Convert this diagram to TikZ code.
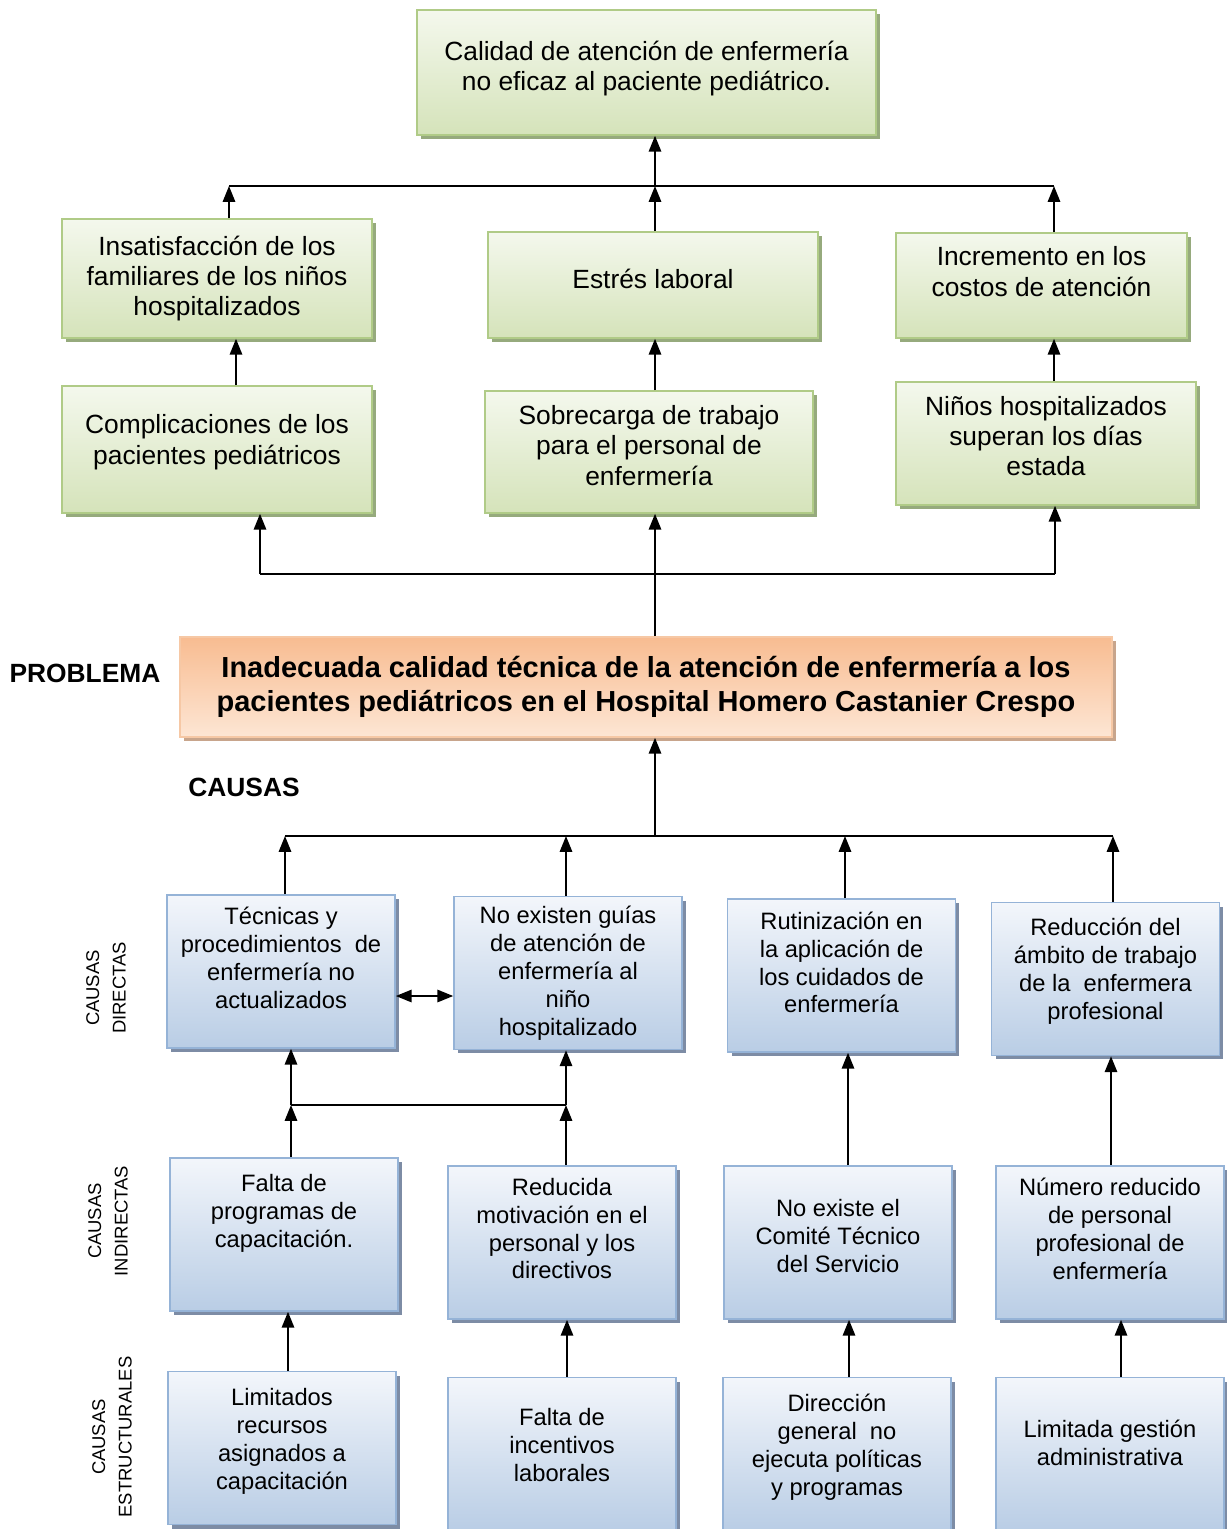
\documentclass[tikz,border=0pt]{standalone}
\usepackage{fontspec}
\setmainfont{Liberation Sans}
\usepackage{xcolor}
\usepackage{tikz}
\usetikzlibrary{arrows.meta,shadows}
\definecolor{efftop}{RGB}{244, 248, 237}
\definecolor{effbot}{RGB}{213, 227, 186}
\definecolor{effborder}{RGB}{176, 203, 135}
\definecolor{effshadow}{RGB}{150, 170, 125}
\definecolor{cautop}{RGB}{243, 246, 251}
\definecolor{caubot}{RGB}{185, 205, 229}
\definecolor{cauborder}{RGB}{149, 179, 215}
\definecolor{caushadow}{RGB}{125, 140, 165}
\definecolor{probtop}{RGB}{248, 188, 145}
\definecolor{probbot}{RGB}{253, 230, 212}
\definecolor{probborder}{RGB}{246, 200, 165}
\definecolor{probshadow}{RGB}{200, 165, 140}

\tikzset{
  effbox/.style={draw=effborder, line width=0.9pt, top color=efftop, bottom color=effbot,
    drop shadow={shadow xshift=0.08cm, shadow yshift=-0.08cm, fill=effshadow, opacity=1},
    align=center, font=\fontsize{15}{17.3}\selectfont, inner sep=3pt},
  causebox/.style={draw=cauborder, line width=0.9pt, top color=cautop, bottom color=caubot,
    drop shadow={shadow xshift=0.08cm, shadow yshift=-0.08cm, fill=caushadow, opacity=1},
    align=center, font=\fontsize{13.5}{15.9}\selectfont, inner sep=3pt,
    minimum width=4.56cm, minimum height=3.06cm},
  probbox/.style={draw=probborder, line width=0.9pt, top color=probtop, bottom color=probbot,
    drop shadow={shadow xshift=0.08cm, shadow yshift=-0.08cm, fill=probshadow, opacity=1},
    align=center, font=\fontsize{16.5}{19.3}\selectfont\bfseries, inner sep=3pt},
  sidelabel/.style={rotate=90, align=center, font=\fontsize{10.5}{15}\selectfont},
  arr/.style={-{Triangle[length=9pt,width=7pt]}, line width=1.1pt},
  dblarr/.style={{Triangle[length=9pt,width=7pt]}-{Triangle[length=9pt,width=7pt]}, line width=1.1pt},
  busline/.style={line width=1.1pt},
}

\begin{document}
\begin{tikzpicture}[x=0.02cm, y=-0.02cm]
  \useasboundingbox (0,0) rectangle (1227,1529);

  % effects
  \node[effbox, minimum width=9.18cm, minimum height=2.5cm, text depth=7.5pt] (top) at (646.5,72.5)
    {Calidad de atención de enfermería\\no eficaz al paciente pediátrico.};
  \node[effbox, minimum width=6.2cm, minimum height=2.38cm] (ins) at (217,278.5)
    {Insatisfacción de los\\familiares de los niños\\hospitalizados};
  \node[effbox, minimum width=6.6cm, minimum height=2.12cm, text depth=7pt] (est) at (653,285)
    {Estrés laboral};
  \node[effbox, minimum width=5.82cm, minimum height=2.1cm, text depth=16pt] (inc) at (1041.5,285.5)
    {Incremento en los\\costos de atención};
  \node[effbox, minimum width=6.2cm, minimum height=2.54cm, text depth=11.4pt] (comp) at (217,449.5)
    {Complicaciones de los\\pacientes pediátricos};
  \node[effbox, minimum width=6.56cm, minimum height=2.44cm, text depth=7.5pt] (sob) at (649,452)
    {Sobrecarga de trabajo\\para el personal de\\enfermería};
  \node[effbox, minimum width=6.0cm, minimum height=2.46cm, text depth=8.6pt] (nin) at (1046,443.5)
    {Niños hospitalizados\\superan los días\\estada};

  % problem
  \node[font=\fontsize{15}{18}\selectfont\bfseries] (lprob) at (85,673) {PROBLEMA};
  \node[probbox, minimum width=18.64cm, minimum height=2.0cm] (prob) at (646,687)
    {Inadecuada calidad técnica de la atención de enfermería a los\\pacientes pediátricos en el Hospital Homero Castanier Crespo};
  \node[font=\fontsize{15}{18}\selectfont\bfseries] (lcaus) at (244,787) {CAUSAS};

  % side labels
  \node[sidelabel] (ldir) at (106,988) {CAUSAS\\DIRECTAS};
  \node[sidelabel] (lind) at (108,1221) {CAUSAS\\INDIRECTAS};
  \node[sidelabel] (lest) at (112,1437) {CAUSAS\\ESTRUCTURALES};

  % direct causes
  \node[causebox, text depth=16pt] (tec) at (281,971.5)
    {Técnicas y\\procedimientos~ de\\enfermería no\\actualizados};
  \node[causebox] (noe) at (568,973)
    {No existen guías\\de atención de\\enfermería al\\niño\\hospitalizado};
  \node[causebox, text depth=15pt] (rut) at (841.5,975.5)
    {Rutinización en\\la aplicación de\\los cuidados de\\enfermería};
  \node[causebox, text depth=11.4pt] (red) at (1105.5,979)
    {Reducción del\\ámbito de trabajo\\de la~ enfermera\\profesional};

  % indirect causes
  \node[causebox, text depth=27.3pt] (fal) at (284,1234.5)
    {Falta de\\programas de\\capacitación.};
  \node[causebox, text depth=16pt] (redm) at (562,1242.5)
    {Reducida\\motivación en el\\personal y los\\directivos};
  \node[causebox, text depth=8pt] (com) at (838,1242.5)
    {No existe el\\Comité Técnico\\del Servicio};
  \node[causebox, text depth=16pt] (num) at (1110,1242.5)
    {Número reducido\\de personal\\profesional de\\enfermería};

  % structural causes
  \node[causebox, text depth=10.3pt] (lim) at (282,1448)
    {Limitados\\recursos\\asignados a\\capacitación};
  \node[causebox, text depth=10.3pt] (fin) at (562,1454)
    {Falta de\\incentivos\\laborales};
  \node[causebox, text depth=10.3pt] (dir) at (837,1454)
    {Dirección\\general~ no\\ejecuta políticas\\y programas};
  \node[causebox, text depth=12.6pt] (lig) at (1110,1454)
    {Limitada gestión\\administrativa};

  % bus points
  \coordinate (eb1) at (229,186);
  \coordinate (eb2) at (655,186);
  \coordinate (eb3) at (1054,186);
  \coordinate (xa) at (236,0);
  \coordinate (pb1) at (260,574);
  \coordinate (pb2) at (655,574);
  \coordinate (pb3) at (1055,574);
  \coordinate (cb) at (655,836);
  \coordinate (cb1) at (285,836);
  \coordinate (cb2) at (566,836);
  \coordinate (cb3) at (845,836);
  \coordinate (cb4) at (1113,836);
  \coordinate (dy) at (0,996);
  \coordinate (ib1) at (291,1105);
  \coordinate (ib2) at (566,1105);
  \coordinate (xr) at (848,0);
  \coordinate (xn) at (1111,0);
  \coordinate (s1) at (288,0);
  \coordinate (s2) at (567,0);
  \coordinate (s3) at (849,0);
  \coordinate (s4) at (1121,0);

  % effect connectors
  \draw[busline] (eb1) -- (eb3);
  \draw[arr] (ins.north -| eb1) -- (eb1);
  \draw[arr] (est.north -| eb2) -- (eb2);
  \draw[arr] (inc.north -| eb3) -- (eb3);
  \draw[arr] (eb2) -- (top.south -| eb2);
  \draw[arr] (comp.north -| xa) -- (ins.south -| xa);
  \draw[arr] (sob.north -| eb2) -- (est.south -| eb2);
  \draw[arr] (nin.north -| eb3) -- (inc.south -| eb3);

  % problem connectors
  \draw[busline] (pb1) -- (pb3);
  \draw[arr] (prob.north -| pb2) -- (sob.south -| pb2);
  \draw[arr] (pb1) -- (comp.south -| pb1);
  \draw[arr] (pb3) -- (nin.south -| pb3);

  % cause connectors
  \draw[busline] (cb1) -- (cb4);
  \draw[arr] (cb) -- (prob.south -| cb);
  \draw[arr] (tec.north -| cb1) -- (cb1);
  \draw[arr] (noe.north -| cb2) -- (cb2);
  \draw[arr] (rut.north -| cb3) -- (cb3);
  \draw[arr] (red.north -| cb4) -- (cb4);
  \draw[dblarr] (tec.east |- dy) -- (noe.west |- dy);

  \draw[busline] (ib1) -- (ib2);
  \draw[arr] (fal.north -| ib1) -- (ib1);
  \draw[arr] (ib1) -- (tec.south -| ib1);
  \draw[arr] (redm.north -| ib2) -- (ib2);
  \draw[arr] (ib2) -- (noe.south -| ib2);
  \draw[arr] (com.north -| xr) -- (rut.south -| xr);
  \draw[arr] (num.north -| xn) -- (red.south -| xn);

  \draw[arr] (lim.north -| s1) -- (fal.south -| s1);
  \draw[arr] (fin.north -| s2) -- (redm.south -| s2);
  \draw[arr] (dir.north -| s3) -- (com.south -| s3);
  \draw[arr] (lig.north -| s4) -- (num.south -| s4);
\end{tikzpicture}
\end{document}
